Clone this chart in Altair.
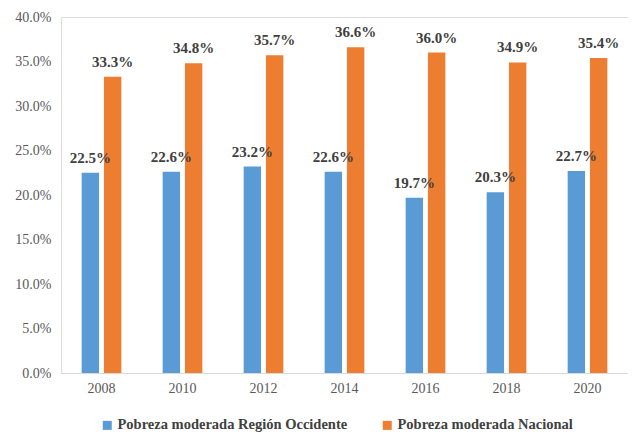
import altair as alt
import pandas as pd

years = ["2008", "2010", "2012", "2014", "2016", "2018", "2020"]
occidente = [22.5, 22.6, 23.2, 22.6, 19.7, 20.3, 22.7]
nacional = [33.3, 34.8, 35.7, 36.6, 36.0, 34.9, 35.4]
series = ["Pobreza moderada Región Occidente", "Pobreza moderada Nacional"]
colors = ["#5B9BD5", "#ED7D31"]
y_ticks = [0, 5, 10, 15, 20, 25, 30, 35, 40]

rows = []
for i, yr in enumerate(years):
    rows.append({"year": yr, "serie": series[0], "value": occidente[i]})
    rows.append({"year": yr, "serie": series[1], "value": nacional[i]})
df = pd.DataFrame(rows)

FONT = "Liberation Serif, Times New Roman, serif"

x = alt.X(
    "year:N", title=None,
    scale=alt.Scale(paddingInner=0.51, paddingOuter=0.255),
    axis=alt.Axis(labelAngle=0, ticks=False, domainColor="#D9D9D9", domainWidth=1,
                  labelFont=FONT, labelFontSize=14, labelColor="#595959", labelPadding=8),
)
xo = alt.XOffset("serie:N", sort=series, scale=alt.Scale(paddingInner=0.22, paddingOuter=0))
y = alt.Y(
    "value:Q", title=None,
    scale=alt.Scale(domain=[0, 40], nice=False),
    axis=alt.Axis(values=y_ticks, grid=False, domain=False, ticks=False,
                  labelExpr="format(datum.value, '.1f') + '%'",
                  labelFont=FONT, labelFontSize=14, labelColor="#595959", labelPadding=10),
)
color = alt.Color(
    "serie:N", sort=series,
    scale=alt.Scale(domain=series, range=colors),
    legend=alt.Legend(title=None, orient="none", direction="horizontal",
                      legendX=39, legendY=401, symbolType="square", symbolSize=81,
                      symbolStrokeWidth=0, labelFont=FONT, labelFontSize=14.5,
                      labelFontWeight="bold", labelColor="#404040", columnPadding=32,
                      labelLimit=400, labelOffset=3),
)

base = alt.Chart(df)
bars = base.mark_bar().encode(x=x, xOffset=xo, y=y, color=color)
labels = base.mark_text(
    baseline="bottom", dy=-7, font=FONT, fontSize=15, fontWeight="bold", color="#404040"
).transform_calculate(
    label="format(datum.value, '.1f') + '%'"
).encode(x=x, xOffset=xo, y=y, text="label:N")

chart = (bars + labels).properties(
    width=567, height=356,
    autosize=alt.AutoSizeParams(type="none"),
    padding={"left": 53, "top": 9, "right": 0, "bottom": 61},
).configure_view(stroke=None).configure(background="white")

chart.save("out.html", embed_options={"renderer": "svg", "actions": False})
